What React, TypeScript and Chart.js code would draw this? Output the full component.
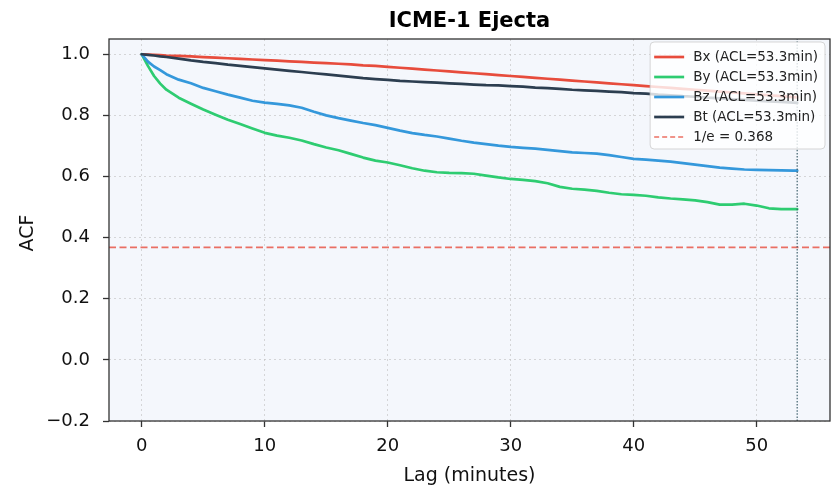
import { useEffect, useRef } from "react";
import { Chart, registerables } from "chart.js";

Chart.register(...registerables);

// Lag axis (minutes)
const lags = [
  0, 0.5, 1, 1.5, 2, 3, 4, 5, 6, 7, 8, 9, 10, 11, 12, 13, 14, 15, 16, 17, 18, 19, 20,
  21, 22, 23, 24, 25, 26, 27, 28, 29, 30, 31, 32, 33, 34, 35, 36, 37, 38, 39, 40,
  41, 42, 43, 44, 45, 46, 47, 48, 49, 50, 51, 52, 53, 53.3,
];

// Autocorrelation of each field component
const acfBx = [
  1.0, 0.999, 0.998, 0.997, 0.996, 0.995, 0.993, 0.991, 0.989, 0.987, 0.985, 0.983, 0.981,
  0.979, 0.977, 0.975, 0.973, 0.971, 0.969, 0.967, 0.964, 0.962, 0.959,
  0.956, 0.953, 0.95, 0.947, 0.944, 0.941, 0.938, 0.935, 0.932, 0.929, 0.926, 0.923,
  0.92, 0.917, 0.914, 0.911, 0.908, 0.905, 0.902, 0.899,
  0.896, 0.893, 0.89, 0.887, 0.884, 0.881, 0.878, 0.875, 0.872, 0.869, 0.866, 0.863, 0.86, 0.859,
];
const acfBy = [
  1.0, 0.962, 0.929, 0.904, 0.884, 0.858, 0.838, 0.819, 0.802, 0.786, 0.772, 0.757, 0.743,
  0.734, 0.727, 0.718, 0.706, 0.695, 0.686, 0.674, 0.662, 0.652, 0.646,
  0.637, 0.627, 0.619, 0.614, 0.612, 0.611, 0.609, 0.603, 0.597, 0.592, 0.589, 0.585,
  0.578, 0.566, 0.56, 0.557, 0.553, 0.547, 0.542, 0.54,
  0.537, 0.532, 0.528, 0.525, 0.522, 0.516, 0.508, 0.508, 0.511, 0.505, 0.496, 0.493, 0.493, 0.493,
];
const acfBz = [
  1.0, 0.976, 0.96, 0.948, 0.935, 0.917, 0.905, 0.89, 0.879, 0.868, 0.858, 0.848, 0.842,
  0.838, 0.833, 0.825, 0.812, 0.8, 0.791, 0.783, 0.775, 0.768, 0.759,
  0.75, 0.742, 0.736, 0.731, 0.724, 0.717, 0.711, 0.706, 0.701, 0.697, 0.694, 0.691,
  0.687, 0.683, 0.679, 0.677, 0.675, 0.67, 0.664, 0.658,
  0.655, 0.652, 0.649, 0.644, 0.639, 0.634, 0.629, 0.626, 0.623, 0.622, 0.621, 0.62, 0.619, 0.619,
];
const acfBt = [
  1.0, 0.998, 0.996, 0.993, 0.991, 0.986, 0.98, 0.975, 0.971, 0.966, 0.962, 0.958, 0.954,
  0.95, 0.946, 0.942, 0.938, 0.934, 0.93, 0.926, 0.922, 0.919, 0.916,
  0.913, 0.911, 0.909, 0.907, 0.905, 0.903, 0.901, 0.899, 0.898, 0.896, 0.894, 0.891,
  0.889, 0.887, 0.884, 0.882, 0.88, 0.878, 0.876, 0.873,
  0.871, 0.868, 0.866, 0.863, 0.861, 0.858, 0.856, 0.853, 0.851, 0.848, 0.846, 0.844, 0.842, 0.841,
];

const seriesNames = ["Bx", "By", "Bz", "Bt"];
const seriesColors = ["#e74c3c", "#2ecc71", "#3498db", "#2c3e50"];
const aclMinutes = [53.3, 53.3, 53.3, 53.3];
const invE = 0.368;

const xTicks = [0, 10, 20, 30, 40, 50];
const yTicks = [-0.2, 0, 0.2, 0.4, 0.6, 0.8, 1.0];
const xRange = [-2.665, 55.965];
const yRange = [-0.2, 1.05];

const titleText = "ICME-1 Ejecta";
const xLabel = "Lag (minutes)";
const yLabel = "ACF";

const FONT = "'DejaVu Sans', 'Liberation Sans', sans-serif";

const fmtY = (v: number) => (v < 0 ? "\u2212" + Math.abs(v).toFixed(1) : v.toFixed(1));

export default function App() {
  const canvasRef = useRef<HTMLCanvasElement | null>(null);

  useEffect(() => {
    const canvas = canvasRef.current;
    if (!canvas) return;

    const allSeries = [acfBx, acfBy, acfBz, acfBt];
    const lineSets = allSeries.map((vals, i) => ({
      label: `${seriesNames[i]} (ACL=${aclMinutes[i].toFixed(1)}min)`,
      data: lags.map((x, k) => ({ x, y: vals[k] })),
      borderColor: seriesColors[i],
      borderWidth: 2.7,
      pointRadius: 0,
      tension: 0,
      fill: false,
      borderJoinStyle: "round",
      borderCapStyle: "round",
      order: 10 - i,
    }));

    const refLine = {
      label: `1/e = ${invE.toFixed(3)}`,
      data: [
        { x: xRange[0], y: invE },
        { x: xRange[1], y: invE },
      ],
      borderColor: "rgba(231,76,60,0.8)",
      borderWidth: 1.7,
      borderDash: [7, 3.5],
      pointRadius: 0,
      fill: false,
      order: 5,
    };

    // one dotted marker per distinct correlation length
    const distinctAcl = aclMinutes.filter((v, i) => aclMinutes.indexOf(v) === i);
    const aclLines = distinctAcl.map((acl, i) => ({
      label: `acl-${i}`,
      data: [
        { x: acl, y: yRange[0] },
        { x: acl, y: yRange[1] },
      ],
      borderColor: "rgba(52,88,100,0.75)",
      borderWidth: 1.5,
      borderDash: [1.5, 1.6],
      pointRadius: 0,
      fill: false,
      order: 1,
    }));

    const legendItems = [
      ...lineSets.map((d) => ({ text: d.label, color: d.borderColor as string, dash: [] as number[] })),
      { text: refLine.label, color: "rgba(231,76,60,0.8)", dash: [5, 3] },
    ];

    const decor = {
      id: "decor",
      beforeDraw(chart: any) {
        const { ctx, chartArea: a } = chart;
        ctx.save();
        ctx.fillStyle = "rgb(244,247,252)";
        ctx.fillRect(a.left, a.top, a.right - a.left, a.bottom - a.top);
        ctx.restore();
      },
      afterDraw(chart: any) {
        const { ctx, chartArea: a } = chart;
        ctx.save();
        // frame
        ctx.strokeStyle = "#333333";
        ctx.lineWidth = 1.3;
        ctx.strokeRect(a.left, a.top, a.right - a.left, a.bottom - a.top);

        // title
        ctx.fillStyle = "#000000";
        ctx.font = `bold 21px ${FONT}`;
        ctx.textAlign = "center";
        ctx.textBaseline = "alphabetic";
        ctx.fillText(titleText, (a.left + a.right) / 2, 27);

        // axis labels
        ctx.font = `19px ${FONT}`;
        ctx.fillStyle = "#111111";
        ctx.fillText(xLabel, (a.left + a.right) / 2, 481);
        ctx.save();
        ctx.translate(33, (a.top + a.bottom) / 2 + 3);
        ctx.rotate(-Math.PI / 2);
        ctx.fillText(yLabel, 0, 0);
        ctx.restore();

        // legend
        ctx.font = `13.5px ${FONT}`;
        let maxW = 0;
        legendItems.forEach((it) => (maxW = Math.max(maxW, ctx.measureText(it.text).width)));
        const boxW = 4 + 30 + 9 + maxW + 7;
        const boxH = 107;
        const bx = a.right - 5 - boxW;
        const by = a.top + 3;
        ctx.beginPath();
        ctx.roundRect(bx, by, boxW, boxH, 4);
        ctx.fillStyle = "rgba(255,255,255,0.8)";
        ctx.fill();
        ctx.strokeStyle = "rgba(204,204,204,0.8)";
        ctx.lineWidth = 1;
        ctx.stroke();
        legendItems.forEach((it, i) => {
          const cy = by + 15 + i * 20;
          ctx.beginPath();
          ctx.setLineDash(it.dash);
          ctx.strokeStyle = it.color;
          ctx.lineWidth = it.dash.length ? 1.7 : 2.7;
          ctx.moveTo(bx + 4, cy);
          ctx.lineTo(bx + 34, cy);
          ctx.stroke();
          ctx.setLineDash([]);
          ctx.fillStyle = "#222222";
          ctx.textAlign = "left";
          ctx.textBaseline = "middle";
          ctx.fillText(it.text, bx + 43, cy);
        });
        ctx.restore();
      },
    };

    const chart = new Chart(canvas, {
      type: "line",
      data: { datasets: [...lineSets, refLine, ...aclLines] as any },
      options: {
        animation: false,
        responsive: false,
        devicePixelRatio: 1,
        layout: { padding: { top: 39, right: 1, left: 0, bottom: 0 } },
        plugins: { legend: { display: false }, tooltip: { enabled: false }, title: { display: false } },
        scales: {
          x: {
            type: "linear",
            min: xRange[0],
            max: xRange[1],
            afterBuildTicks: (s: any) => {
              s.ticks = xTicks.map((v) => ({ value: v }));
            },
            afterFit: (s: any) => {
              s.height = 65;
            },
            ticks: {
              color: "#111111",
              font: { family: FONT, size: 18 },
              padding: 9,
              maxRotation: 0,
              callback: (v: any) => String(v),
            },
            grid: {
              color: "rgba(190,190,190,0.6)",
              lineWidth: 1,
              drawTicks: true,
              tickLength: 6,
              tickColor: "#333333",
              tickWidth: 1.3,
            },
            border: { display: false, dash: [2, 3] },
          },
          y: {
            type: "linear",
            min: yRange[0],
            max: yRange[1],
            afterBuildTicks: (s: any) => {
              s.ticks = yTicks.map((v) => ({ value: v }));
            },
            afterFit: (s: any) => {
              s.width = 109;
            },
            ticks: {
              color: "#111111",
              font: { family: FONT, size: 18 },
              padding: 13,
              callback: (v: any) => fmtY(Number(v)),
            },
            grid: {
              color: "rgba(190,190,190,0.6)",
              lineWidth: 1,
              drawTicks: true,
              tickLength: 6,
              tickColor: "#333333",
              tickWidth: 1.3,
            },
            border: { display: false, dash: [2, 3] },
          },
        },
      },
      plugins: [decor],
    });

    return () => chart.destroy();
  }, []);

  return (
    <div style={{ position: "absolute", left: 0, top: 0, width: 831, height: 486, background: "#ffffff" }}>
      <canvas ref={canvasRef} width={831} height={486} />
    </div>
  );
}
